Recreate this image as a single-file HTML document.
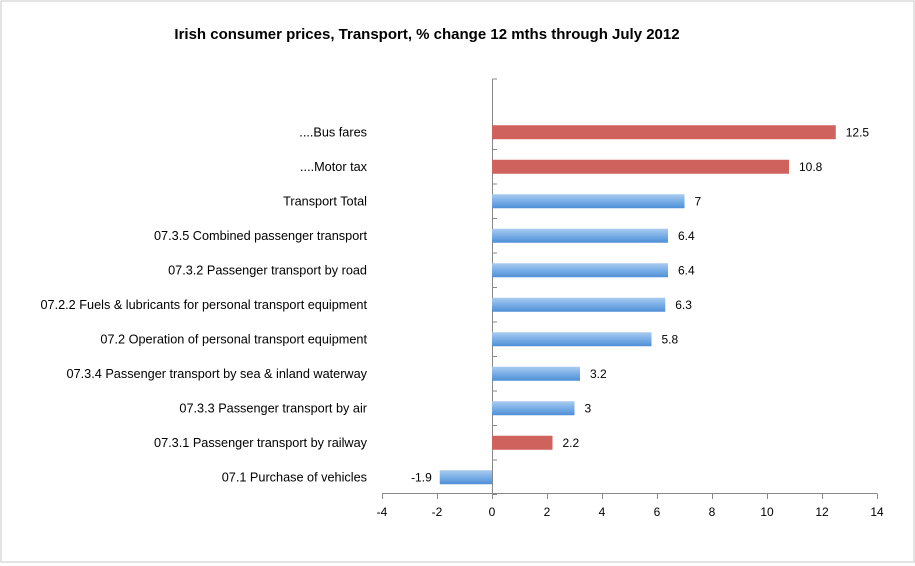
<!DOCTYPE html>
<html><head><meta charset="utf-8"><style>
body{margin:0;background:#fff;}
svg{display:block;font-family:"Liberation Sans",sans-serif;}
</style></head><body>
<svg width="915" height="566">
<defs>
<linearGradient id="blue" x1="0" y1="0" x2="0" y2="1">
<stop offset="0" stop-color="#a9cbf0"/><stop offset="0.5" stop-color="#79aee6"/><stop offset="1" stop-color="#4f8fd6"/>
</linearGradient>
</defs>
<rect x="1" y="1" width="913" height="561" fill="#fff" stroke="#c8c8c8"/>
<text x="427" y="39" text-anchor="middle" font-size="15" font-weight="bold" fill="#000">Irish consumer prices, Transport, % change 12 mths through July 2012</text>
<g id="plot"></g>
</svg>
<script>
const categories=["....Bus fares","....Motor tax","Transport Total","07.3.5 Combined passenger transport","07.3.2 Passenger transport by road","07.2.2 Fuels & lubricants for personal transport equipment","07.2 Operation of personal transport equipment","07.3.4 Passenger transport by sea & inland waterway","07.3.3 Passenger transport by air","07.3.1 Passenger transport by railway","07.1 Purchase of vehicles"];
const values=[12.5,10.8,7,6.4,6.4,6.3,5.8,3.2,3,2.2,-1.9];
const labels=["12.5","10.8","7","6.4","6.4","6.3","5.8","3.2","3","2.2","-1.9"];
const highlighted=[true,true,false,false,false,false,false,false,false,true,false];
const xTicks=[-4,-2,0,2,4,6,8,10,12,14];
const NS="http://www.w3.org/2000/svg";
const g=document.getElementById('plot');
const x=v=>492+(v)*27.5;
const rowH=34.5, yTop=115;
const y=i=>yTop+rowH*(i+0.5);
function el(t,a){const e=document.createElementNS(NS,t);for(const k in a)e.setAttribute(k,a[k]);g.appendChild(e);return e;}
const xAx=el('line',{x1:x(-4),x2:x(14),y1:493.5,y2:493.5,stroke:'#888'});


const yAx=el('line',{x1:x(0)+0.5,x2:x(0)+0.5,y1:79,y2:493.5,stroke:'#888'});


for(let i=1;i<=categories.length;i++){const yy=yTop+rowH*i;el('line',{x1:x(0)+0.5,x2:x(0)+5,y1:yy,y2:yy,stroke:'#888'});}
el('line',{x1:x(0)+0.5,x2:x(0)+5,y1:79,y2:79,stroke:'#888'});
xTicks.forEach(t=>{
el('line',{x1:x(t)+0.5,x2:x(t)+0.5,y1:493.5,y2:499,stroke:'#888'});
const tx=el('text',{x:x(t),y:516,'text-anchor':'middle','font-size':12,fill:'#000'});
tx.textContent=t;


});
categories.forEach((c,i)=>{
const v=values[i];
const b=el('rect',{x:Math.min(x(0),x(v)),y:y(i)-7,width:Math.abs(x(v)-x(0)),height:14,fill:highlighted[i]?'#d0625e':'url(#blue)'});


const cl=el('text',{x:367,y:y(i)+4,'text-anchor':'end','font-size':12.7,fill:'#000'});
cl.textContent=c;


const vl=el('text',{x:v>=0?x(v)+10:x(v)-8,y:y(i)+4,'text-anchor':v>=0?'start':'end','font-size':12,fill:'#000'});
vl.textContent=labels[i];


});
</script>
</body></html>
